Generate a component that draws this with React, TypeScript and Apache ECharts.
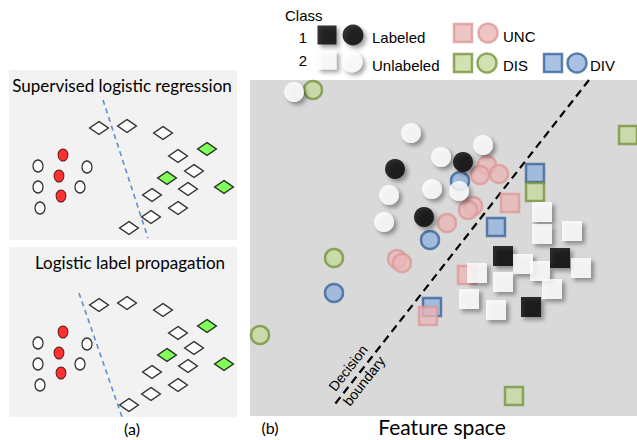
import React, { useEffect, useRef } from "react";
import * as echarts from "echarts";

// ---------- Panel (a): toy 2-class data (same for both sub-panels) ----------
const hollowCircles = [[29, 96], [29, 117], [31, 138], [78, 97], [71, 117]];
const redCircles = [[54, 85], [50, 106], [52, 126]];
const whiteDiamonds = [
  [90, 58], [118, 56], [154, 63], [169, 86], [185, 101], [179, 119],
  [143, 125], [169, 138], [142, 147], [120, 158],
];
const greenDiamonds = [[198, 79], [158, 108], [215, 117]];
const boundarySupervised = [[94, 30], [139, 168]];
const boundaryPropagation = [[70, 46], [113, 170]];

// ---------- Panel (b): feature space ----------
const unlabeledCircles = [[44, 12], [161, 53], [191, 77], [233, 65], [182, 109], [139, 115], [134, 142], [209, 111]];
const labeledCircles = [[145, 89], [213, 82], [174, 137]];
const uncCircles = [[197, 143], [147, 179], [152, 183], [237, 85], [230, 95], [249, 94], [223, 126], [218, 130]];
const divCircles = [[180, 160], [210, 101], [84, 213]];
const disCircles = [[63, 10], [84, 178], [10, 255]];
const divSquares = [[285, 93], [246, 147], [182, 227]];
const disSquares = [[285, 112], [378, 55], [264, 316]];
const uncSquares = [[260, 123], [217, 195], [178, 236]];
const unlabeledSquares = [
  [292, 132], [292, 154], [322, 151], [273, 184], [290, 191], [331, 188],
  [227, 193], [253, 202], [302, 209], [219, 219], [246, 230],
];
const labeledSquares = [[253, 176], [310, 178], [281, 227]];
const decisionBoundary = [[339, 0], [85, 324]];

// ---------- Legend ----------
const legendLabeledSquare = [[77, 35]];
const legendLabeledCircle = [[103, 35]];
const legendUnlabeledSquare = [[77, 60]];
const legendUnlabeledCircle = [[102, 62]];
const legendUncSquare = [[213, 33]];
const legendUncCircle = [[238, 33]];
const legendDisSquare = [[213, 63]];
const legendDisCircle = [[237, 63]];
const legendDivSquare = [[303, 63]];
const legendDivCircle = [[327, 63]];

const SHADOW = { shadowBlur: 4, shadowColor: "rgba(0,0,0,0.45)", shadowOffsetX: 3, shadowOffsetY: 3 };
const PINK = { color: "#e8b7b7", borderColor: "#dd9898", borderWidth: 2.5 };
const GREEN = { color: "#c5d99d", borderColor: "#77933c", borderWidth: 2.5 };
const BLUE = { color: "#93b3dc", borderColor: "#3a649a", borderWidth: 2.5 };
const WHITE = { color: "#ffffff", ...SHADOW };
const BLACK = { color: "#000000", ...SHADOW };

export default function App() {
  const ref = useRef<HTMLDivElement>(null);
  useEffect(() => {
    if (!ref.current) return;
    const chart = echarts.init(ref.current, undefined, { renderer: "svg" });

    const hideAxis = (gridIndex: number, max: number, inverse = false) => ({
      type: "value", gridIndex, min: 0, max, show: false, inverse,
      splitLine: { show: false },
    });

    const sc = (name: string, grid: number, data: number[][], symbol: string, size: any, itemStyle: any, z = 2) => ({
      type: "scatter", name, xAxisIndex: grid, yAxisIndex: grid, data, symbol, symbolSize: size,
      itemStyle, z, silent: true, clip: false,
    });

    const series: any[] = [];
    // panel (a) two sub-panels: grids 0 and 1
    [0, 1].forEach((g) => {
      series.push({
        type: "line", xAxisIndex: g, yAxisIndex: g, symbol: "none", z: 1,
        data: g === 0 ? boundarySupervised : boundaryPropagation,
        lineStyle: { color: "#5b8fd4", width: 1.6, type: [5, 4] },
      });
      series.push(sc("hollow", g, hollowCircles, "circle", [10, 12], { color: "#ffffff", borderColor: "#000", borderWidth: 1.3 }));
      series.push(sc("red", g, redCircles, "circle", [10, 12], { color: "#ff0000", borderColor: "#3a0000", borderWidth: 1 }));
      series.push(sc("diamond", g, whiteDiamonds, "diamond", [19, 13], { color: "#ffffff", borderColor: "#000", borderWidth: 1.3 }));
      series.push(sc("greenDiamond", g, greenDiamonds, "diamond", [19, 13], { color: "#66ff33", borderColor: "#000", borderWidth: 1.3 }));
    });
    // panel (b): grid 2
    series.push({
      type: "line", xAxisIndex: 2, yAxisIndex: 2, symbol: "none", z: 1,
      data: decisionBoundary,
      lineStyle: { color: "#000", width: 2.2, type: [8, 5] },
    });
    series.push(sc("uncC", 2, uncCircles, "circle", 18, PINK));
    series.push(sc("divC", 2, divCircles, "circle", 18, BLUE));
    series.push(sc("disC", 2, disCircles, "circle", 18, GREEN));
    series.push(sc("divS", 2, divSquares, "rect", 18, BLUE));
    series.push(sc("uncS", 2, uncSquares, "rect", 18, PINK));
    series.push(sc("disS", 2, disSquares, "rect", 18, GREEN));
    series.push(sc("labC", 2, labeledCircles, "circle", 20, BLACK, 3));
    series.push(sc("unlC", 2, unlabeledCircles, "circle", 20, WHITE, 3));
    series.push(sc("labS", 2, labeledSquares, "rect", 20, BLACK, 3));
    series.push(sc("unlS", 2, unlabeledSquares, "rect", 20, WHITE, 4));
    // legend grid 3
    series.push(sc("lLS", 3, legendLabeledSquare, "rect", 19, BLACK));
    series.push(sc("lLC", 3, legendLabeledCircle, "circle", 21, BLACK));
    series.push(sc("lUS", 3, legendUnlabeledSquare, "rect", 19, WHITE));
    series.push(sc("lUC", 3, legendUnlabeledCircle, "circle", 21, WHITE));
    series.push(sc("lUncS", 3, legendUncSquare, "rect", 18, PINK));
    series.push(sc("lUncC", 3, legendUncCircle, "circle", 19, PINK));
    series.push(sc("lDisS", 3, legendDisSquare, "rect", 18, GREEN));
    series.push(sc("lDisC", 3, legendDisCircle, "circle", 19, GREEN));
    series.push(sc("lDivS", 3, legendDivSquare, "rect", 18, BLUE));
    series.push(sc("lDivC", 3, legendDivCircle, "circle", 19, BLUE));

    const arial = (s: number) => `${s}px "Liberation Sans", Arial, sans-serif`;
    const humanist = (s: number) => `${s}px Lato, "Open Sans", sans-serif`;
    const txt = (text: string, x: number, y: number, font: string, align = "left", extra: any = {}) => ({
      type: "text", x, y, z: 100, silent: true, ...extra,
      style: { text, font, fill: "#000", textAlign: align, textVerticalAlign: "middle" },
    });
    const rot = (52 * Math.PI) / 180;

    chart.setOption({
      animation: false,
      backgroundColor: "#ffffff",
      grid: [
        { left: 9, top: 70, width: 228, height: 170, show: true, backgroundColor: "#f2f2f2", borderWidth: 0 },
        { left: 9, top: 247, width: 228, height: 170, show: true, backgroundColor: "#f2f2f2", borderWidth: 0 },
        { left: 250, top: 80, width: 387, height: 336, show: true, backgroundColor: "#d9d9d9", borderWidth: 0 },
        { left: 250, top: 0, width: 387, height: 80, show: false },
      ],
      xAxis: [hideAxis(0, 228), hideAxis(1, 228), hideAxis(2, 387), hideAxis(3, 387)],
      yAxis: [hideAxis(0, 170, true), hideAxis(1, 170, true), hideAxis(2, 336, true), hideAxis(3, 80, true)],
      series,
      graphic: [
        txt("Supervised logistic regression", 122, 85, humanist(17), "center"),
        txt("Logistic label propagation", 130, 262, humanist(17), "center"),
        txt("(a)", 132, 428, humanist(16), "center"),
        txt("(b)", 270, 427, humanist(16), "center"),
        txt("Feature space", 442, 426, humanist(21), "center"),
        txt("Class", 285, 15, arial(15)),
        txt("1", 303, 37, arial(15), "center"),
        txt("2", 303, 60, arial(15), "center"),
        txt("Labeled", 372, 37, arial(15)),
        txt("Unlabeled", 372, 65, arial(15)),
        txt("UNC", 503, 36, arial(15)),
        txt("DIS", 503, 65, arial(15)),
        txt("DIV", 590, 65, arial(15)),
        txt("Decision", 348, 368, arial(14), "center", { rotation: rot }),
        txt("boundary", 364, 381, arial(14), "center", { rotation: rot }),
      ],
    });
    return () => chart.dispose();
  }, []);
  return <div ref={ref} style={{ position: "fixed", left: 0, top: 0, width: 637, height: 440 }} />;
}
